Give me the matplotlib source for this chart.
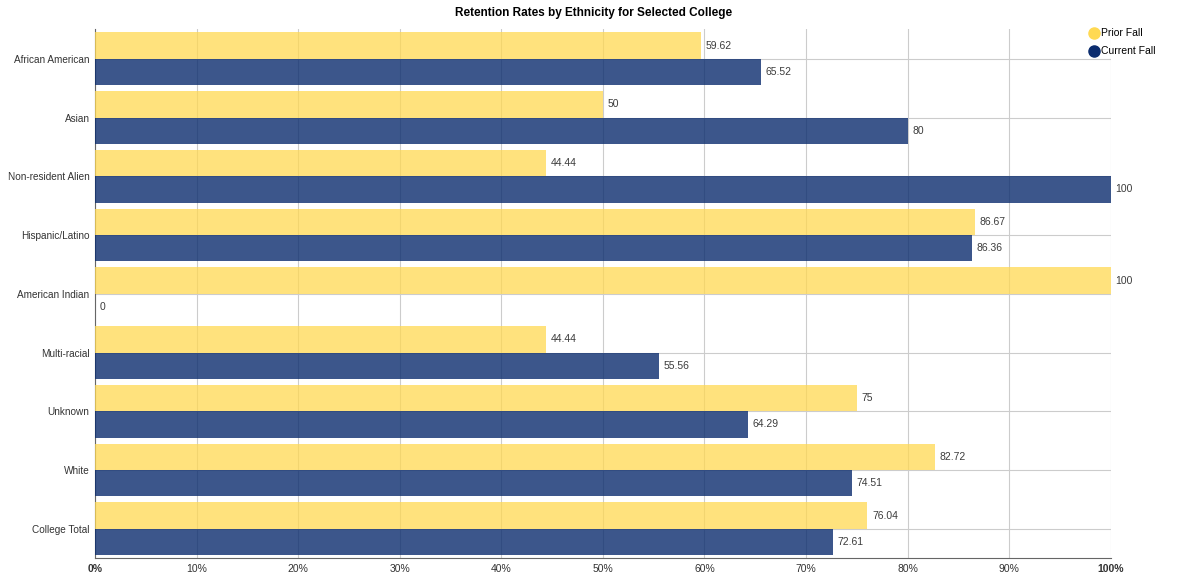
import numpy as np
import matplotlib.pyplot as plt
from matplotlib.lines import Line2D

categories = ["African American", "Asian", "Non-resident Alien", "Hispanic/Latino",
              "American Indian", "Multi-racial", "Unknown", "White", "College Total"]
prior_fall = [59.62, 50, 44.44, 86.67, 100, 44.44, 75, 82.72, 76.04]
current_fall = [65.52, 80, 100, 86.36, 0, 55.56, 64.29, 74.51, 72.61]
xticks = [0, 10, 20, 30, 40, 50, 60, 70, 80, 90, 100]

yellow = '#FFD952'
navy = '#0B2C6E'

plt.rcParams['font.family'] = ['Liberation Sans', 'DejaVu Sans']


def fmt(v):
    return ('%.2f' % v).rstrip('0').rstrip('.')


fig = plt.figure(figsize=(11.88, 5.76), dpi=100)
ax = fig.add_axes([0.08, 0.031, 0.855, 0.918])

y = np.arange(len(categories))
h = 0.45
ax.barh(y - h / 2, prior_fall, height=h, color=yellow, alpha=0.75, zorder=3)
ax.barh(y + h / 2, current_fall, height=h, color=navy, alpha=0.8, zorder=3)

for i in range(len(categories)):
    ax.text(prior_fall[i] + 0.45, y[i] - h / 2, fmt(prior_fall[i]), va='center', ha='left',
            fontsize=7.5, color='#3c3c3c', zorder=4)
    ax.text(current_fall[i] + 0.45, y[i] + h / 2, fmt(current_fall[i]), va='center', ha='left',
            fontsize=7.5, color='#3c3c3c', zorder=4)

ax.set_xlim(0, 100)
ax.set_ylim(len(categories) - 0.5, -0.5)
ax.set_yticks(y)
ax.set_yticklabels(categories, fontsize=7.2, color='#333333')
ax.set_xticks(xticks)
ax.set_xticklabels(['%d%%' % t for t in xticks], fontsize=7.5, color='#333333')
ax.get_xticklabels()[0].set_fontweight('bold')
ax.get_xticklabels()[-1].set_fontweight('bold')
ax.tick_params(axis='both', length=0, pad=4)
ax.grid(True, color='#cccccc', linewidth=0.8, zorder=0)
ax.set_axisbelow(True)
for s in ['top', 'right']:
    ax.spines[s].set_visible(False)
ax.spines['left'].set_color('#666666')
ax.spines['bottom'].set_color('#666666')

fig.suptitle('Retention Rates by Ethnicity for Selected College', fontsize=8.5,
             fontweight='bold', y=0.988, x=0.5)

handles = [Line2D([], [], marker='o', linestyle='', markersize=8, color=yellow, label='Prior Fall'),
           Line2D([], [], marker='o', linestyle='', markersize=8, color=navy, label='Current Fall')]
fig.legend(handles=handles, loc='upper left', bbox_to_anchor=(0.913, 0.958), frameon=False,
           fontsize=7.5, handletextpad=0.15, labelspacing=0.75, borderaxespad=0, handlelength=1)

fig.savefig('out.png', dpi=100)
